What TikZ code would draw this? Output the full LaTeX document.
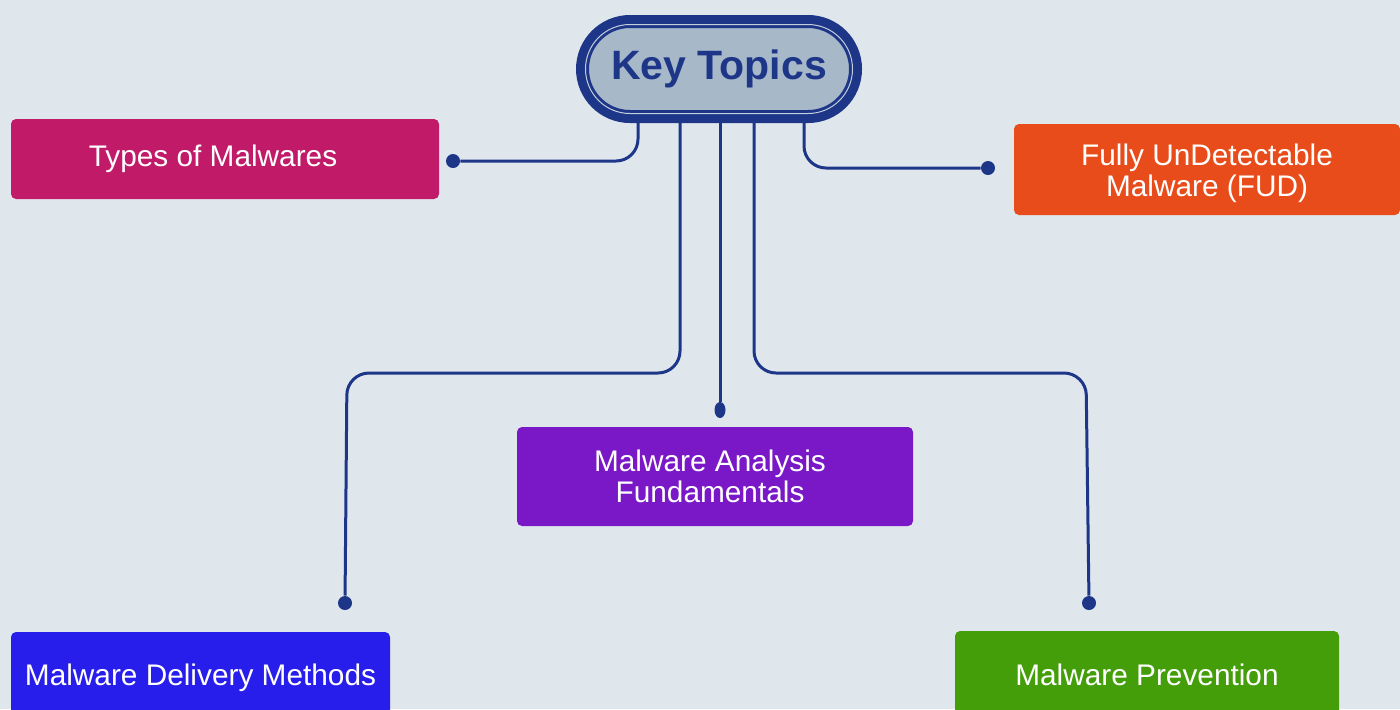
\documentclass[tikz,border=0pt]{standalone}
\usepackage{fontspec}
\setmainfont{Liberation Sans}
\usetikzlibrary{calc,shapes.geometric}

\definecolor{bg}{HTML}{DFE7ED}
\definecolor{navy}{HTML}{1E3688}
\definecolor{ktfill}{HTML}{A7B8C9}
\definecolor{ktlight}{HTML}{C3CEDC}
\definecolor{cTypes}{HTML}{C11A69}
\definecolor{cFud}{HTML}{E84C1A}
\definecolor{cMaf}{HTML}{7A18C8}
\definecolor{cDel}{HTML}{281EEB}
\definecolor{cPrev}{HTML}{449E0A}

\begin{document}
\begin{tikzpicture}[x=0.5pt,y=-0.5pt,
  keytopic/.style={rectangle, rounded corners=22.25pt,
    minimum width=133.5pt, minimum height=44.5pt, inner sep=0pt,
    fill=ktfill, draw=navy, line width=1.5pt,
    double=ktlight, double distance=0.5pt,
    preaction={draw=navy, line width=9.5pt},
    text=navy, font=\bfseries\fontsize{20.5}{24}\selectfont},
  topic/.style={rectangle, rounded corners=2.5pt, inner sep=0pt},
  boxlabel/.style={text=white, align=center, inner sep=0pt,
    font=\fontsize{14.9}{15.5}\selectfont},
  conn/.style={draw=navy, line width=1.5pt, rounded corners=11pt},
  dot/.style={circle, fill=navy, inner sep=0pt, minimum size=7pt},
  ovaldot/.style={ellipse, fill=navy, inner sep=0pt, minimum width=5.5pt, minimum height=8pt}]

\useasboundingbox (0,0) rectangle (1400,709);
\fill[bg] (0,0) rectangle (1400,709);
\clip (0,0) rectangle (1400,709);

% central topic
\node[keytopic] (kt) at (719,69) {Key Topics};

% subtopic boxes with their captions
\node[topic, fill=cTypes, minimum width=214pt, minimum height=40pt,
  label={[boxlabel, xshift=-6pt]center:Types of Malwares}] (types) at (225,159) {};
\node[topic, fill=cFud, minimum width=193pt, minimum height=45.5pt,
  label={[boxlabel, yshift=-2pt]center:Fully UnDetectable\\Malware (FUD)}] (fud) at (1207,169.5) {};
\node[topic, fill=cMaf, minimum width=198pt, minimum height=49.5pt,
  label={[boxlabel, xshift=-2.5pt]center:Malware Analysis\\Fundamentals}] (maf) at (715,476.5) {};
\node[topic, fill=cDel, minimum width=189.5pt, minimum height=44pt,
  label={[boxlabel, yshift=-1pt]center:Malware Delivery Methods}] (del) at (200.5,676) {};
\node[topic, fill=cPrev, minimum width=192pt, minimum height=44pt,
  label={[boxlabel]center:Malware Prevention}] (prev) at (1147,675) {};

% connector end points
\node[dot] (d1) at (453,161) {};
\node[dot] (d2) at (345,603) {};
\node[ovaldot] (d3) at (720,410) {};
\node[dot] (d4) at (1089,603) {};
\node[dot] (d5) at (988,168) {};

% connectors
\draw[conn] ($(kt.south)+(-81,8)$) |- (d1);
\draw[conn] ($(kt.south)+(-39,8)$) |- (347,373) -- (d2);
\draw[conn] ($(kt.south)+(1,8)$) -- (d3);
\draw[conn] ($(kt.south)+(35,8)$) |- (1086,373) -- (d4);
\draw[conn] ($(kt.south)+(85,8)$) |- (d5);
\end{tikzpicture}
\end{document}
